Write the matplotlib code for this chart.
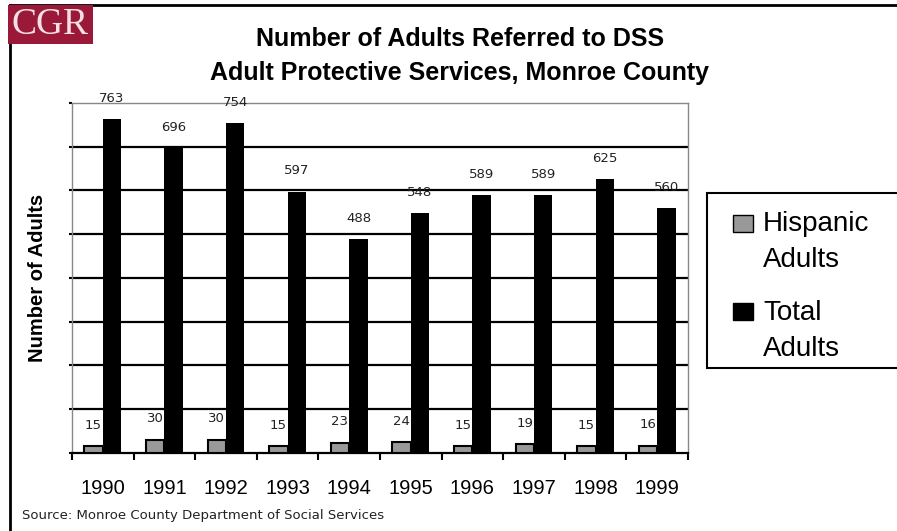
import matplotlib
matplotlib.use("Agg")
import matplotlib.pyplot as plt
from matplotlib.patches import Rectangle
from matplotlib.lines import Line2D
import numpy as np

# data
years = ['1990', '1991', '1992', '1993', '1994', '1995', '1996', '1997', '1998', '1999']
hispanic = [15, 30, 30, 15, 23, 24, 15, 19, 15, 16]
total = [763, 696, 754, 597, 488, 548, 589, 589, 625, 560]
series_names = ['Hispanic\nAdults', 'Total\nAdults']
series_colors = ['#999999', '#000000']

W, H = 897, 531
fig = plt.figure(figsize=(W / 100, H / 100), dpi=100)
plt.rcParams['font.family'] = ['Liberation Sans', 'DejaVu Sans']

# plot area (pixel measured)
left, right, top, bottom = 72, 688, 103, 452.7
ax = fig.add_axes([left / W, 1 - bottom / H, (right - left) / W, (bottom - top) / H])

x = np.arange(len(years))
bw = 0.3
ax.bar(x - bw / 2, hispanic, width=bw, color=series_colors[0], edgecolor='black', linewidth=1.5, zorder=3)
ax.bar(x + bw / 2, total, width=bw, color=series_colors[1], edgecolor='black', linewidth=0, zorder=3)

for xi, v in zip(x, hispanic):
    ax.annotate(str(v), (xi - bw / 2, v), xytext=(0, 15), textcoords='offset points',
                ha='center', va='center', fontsize=9.5, family='DejaVu Sans', color='#222222',
                annotation_clip=False, zorder=4)
for xi, v in zip(x, total):
    ax.annotate(str(v), (xi + bw / 2, v), xytext=(0, 15), textcoords='offset points',
                ha='center', va='center', fontsize=9.5, family='DejaVu Sans', color='#222222',
                annotation_clip=False, zorder=4)

ax.set_xlim(-0.5, len(years) - 0.5)
ax.set_ylim(0, 800)
ax.set_yticks(np.arange(0, 801, 100))
ax.set_yticklabels([])
ax.tick_params(axis='y', length=2, width=1.5, color='black')
for yv in range(100, 800, 100):
    ax.axhline(yv, color='black', linewidth=1.6, zorder=1)

ax.set_xticks(x)
ax.set_xticklabels(years, fontsize=14.5)
ax.tick_params(axis='x', which='major', length=0, pad=19)
ax.set_xticks(np.arange(-0.5, len(years), 1), minor=True)
ax.tick_params(axis='x', which='minor', length=5, width=1.5, color='black', direction='out')

for s in ['left', 'right', 'top']:
    ax.spines[s].set_color('#888888')
    ax.spines[s].set_linewidth(1)
ax.spines['bottom'].set_color('black')
ax.spines['bottom'].set_linewidth(1.6)

ax.set_ylabel('Number of Adults', fontsize=14.5, fontweight='bold')
ax.yaxis.set_label_coords((47 - left) / (right - left), 0.5)

# title
fig.text(460 / W, 1 - 39 / H, 'Number of Adults Referred to DSS', ha='center', va='center',
         fontsize=18, fontweight='bold')
fig.text(460 / W, 1 - 73 / H, 'Adult Protective Services, Monroe County', ha='center', va='center',
         fontsize=18, fontweight='bold')

# source
fig.text(22 / W, 1 - 515 / H, 'Source: Monroe County Department of Social Services',
         ha='left', va='center', fontsize=9.5, family='DejaVu Sans', color='#222222')

# outer frame (left and top)
fig.add_artist(Line2D([9.5 / W, 9.5 / W], [0, 1 - 5 / H], color='black', linewidth=2))
fig.add_artist(Line2D([9.5 / W, 1], [1 - 5 / H, 1 - 5 / H], color='black', linewidth=2))

# logo
fig.add_artist(Rectangle((8 / W, 1 - 44 / H), 85 / W, 39 / H, transform=fig.transFigure,
                         facecolor='#9a1838', edgecolor='none', zorder=5))
fig.text(50 / W, 1 - 25 / H, 'CGR', ha='center', va='center', fontsize=27,
         family='Liberation Serif', color='#f2e0e5', zorder=6)

# legend
fig.add_artist(Rectangle((707 / W, 1 - 368 / H), 200 / W, 175 / H, transform=fig.transFigure,
                         facecolor='white', edgecolor='black', linewidth=1.5))
for i, (name, col) in enumerate(zip(series_names, series_colors)):
    ytop = 215 + i * 88
    fig.add_artist(Rectangle((733 / W, 1 - (ytop + 17) / H), 20 / W, 17 / H,
                             transform=fig.transFigure, facecolor=col, edgecolor='black',
                             linewidth=1))
    fig.text(763 / W, 1 - (242 + i * 89) / H, name, ha='left', va='center', fontsize=20,
             linespacing=1.5)

fig.savefig('out.png', dpi=100)
